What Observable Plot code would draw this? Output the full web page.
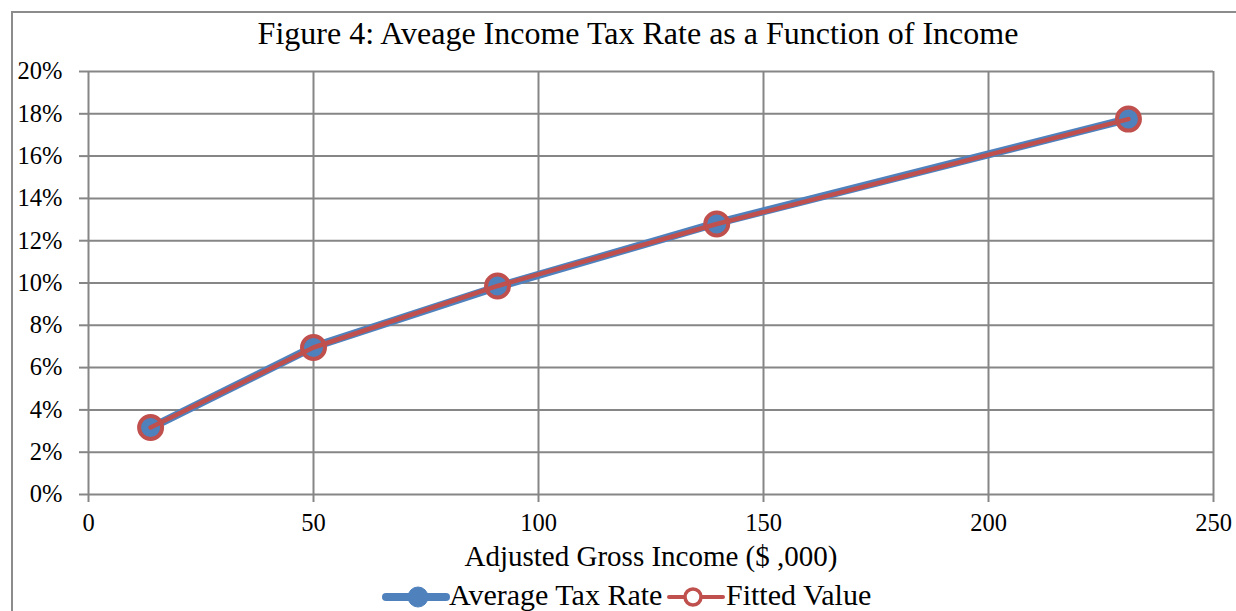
<!DOCTYPE html>
<html><head><meta charset="utf-8">
<script src="https://cdn.jsdelivr.net/npm/d3@7"></script>
<script src="https://cdn.jsdelivr.net/npm/@observablehq/plot@0.6"></script>
<style>
body{margin:0;width:1236px;height:611px;overflow:hidden;background:#fff;font-family:"Liberation Serif","Times New Roman",serif;}
#frame{position:absolute;left:11px;top:11px;width:1240px;height:620px;border-left:2px solid #8c8c8c;border-top:2px solid #8c8c8c;}
#title{position:absolute;left:0;width:1276px;top:15px;text-align:center;font-size:32px;line-height:1.15;color:#000;}
#xlabel{position:absolute;left:0;width:1302px;top:540px;text-align:center;font-size:29px;line-height:1.15;color:#000;}
#chart{position:absolute;left:0;top:0;}
#chart svg text{font-size:24.5px !important;font-family:"Liberation Serif","Times New Roman",serif !important;fill:#000;}
#legend{position:absolute;left:0;top:570px;width:1236px;height:41px;}
</style></head>
<body>
<div id="frame"></div>
<div id="title">Figure 4: Aveage Income Tax Rate as a Function of Income</div>
<div id="chart"></div>
<div id="xlabel">Adjusted Gross Income ($ ,000)</div>
<div id="legend"></div>
<script>
const income = [13.8, 50, 90.9, 139.6, 231.1];
const avgRate = [0.0315, 0.0698, 0.0982, 0.1283, 0.1776];
const fitted = [0.0317, 0.0695, 0.0986, 0.1279, 0.1775];
const xTicks = [0, 50, 100, 150, 200, 250];
const yTicks = [0, 0.02, 0.04, 0.06, 0.08, 0.10, 0.12, 0.14, 0.16, 0.18, 0.20];
const seriesNames = ["Average Tax Rate", "Fitted Value"];
const blue = "#4F81BD", red = "#C0504D", grid = "#868686";

const avgData = income.map((x, i) => ({x, y: avgRate[i]}));
const fitData = income.map((x, i) => ({x, y: fitted[i]}));
const pct = d => Math.round(d * 100) + "%";

const chart = Plot.plot({
  width: 1236, height: 611,
  marginLeft: 88, marginRight: 23, marginTop: 71, marginBottom: 117,
  style: {fontFamily: '"Liberation Serif","Times New Roman",serif', fontSize: "24px", color: "#000", background: "transparent", overflow: "visible"},
  x: {domain: [0, 250], label: null},
  y: {domain: [0, 0.20], label: null},
  marks: [
    Plot.gridY(yTicks, {stroke: grid, strokeOpacity: 1, strokeWidth: 2}),
    Plot.gridX(xTicks, {stroke: grid, strokeOpacity: 1, strokeWidth: 2}),
    Plot.axisX({ticks: xTicks, tickSize: 8, tickPadding: 11, stroke: grid, strokeWidth: 2, label: null}),
    Plot.axisY({ticks: yTicks, tickFormat: pct, tickSize: 9, tickPadding: 17, stroke: grid, strokeWidth: 2, label: null}),
    Plot.line(avgData, {x: "x", y: "y", stroke: blue, strokeWidth: 8}),
    Plot.dot(avgData, {x: "x", y: "y", r: 11, fill: blue, stroke: blue, strokeWidth: 1}),
    Plot.line(fitData, {x: "x", y: "y", stroke: red, strokeWidth: 4.5}),
    Plot.dot(fitData, {x: "x", y: "y", r: 11.5, fill: "none", stroke: red, strokeWidth: 4})
  ]
});
document.getElementById("chart").appendChild(chart);

// Legend
const leg = d3.select("#legend").append("svg").attr("width", 1236).attr("height", 41)
  .style("font-family", '"Liberation Serif","Times New Roman",serif');
const items = [
  {name: seriesNames[0], x0: 386, x1: 446, cx: 418, color: blue, w: 8, fill: blue, r: 10, sw: 1, tx: 449},
  {name: seriesNames[1], x0: 669, x1: 723, cx: 693, color: red, w: 4, fill: "#fff", r: 8, sw: 3.5, tx: 726}
];
for (const it of items) {
  leg.append("line").attr("x1", it.x0).attr("x2", it.x1).attr("y1", 27).attr("y2", 27)
    .attr("stroke", it.color).attr("stroke-width", it.w).attr("stroke-linecap", "round");
  leg.append("circle").attr("cx", it.cx).attr("cy", 27).attr("r", it.r)
    .attr("fill", it.fill).attr("stroke", it.color).attr("stroke-width", it.sw);
  leg.append("text").attr("x", it.tx).attr("y", 35).attr("font-size", 30).attr("fill", "#000").text(it.name);
}
</script>
</body></html>
